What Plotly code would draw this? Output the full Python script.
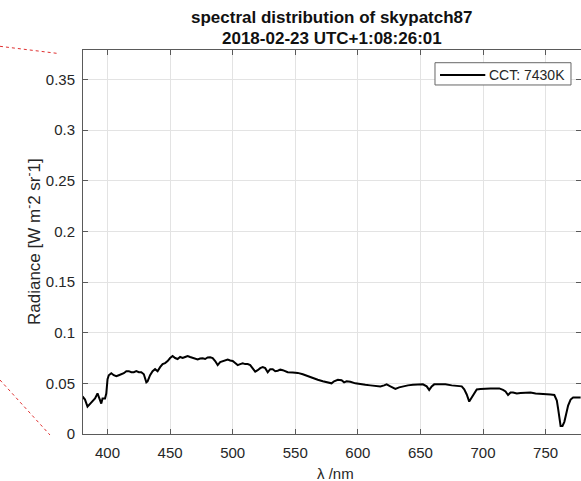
import plotly.graph_objects as go

# Sky-patch spectrum, wavelength in nm and radiance in W m^-2 sr^-1
wavelength = [
    380, 382, 384, 386, 388, 390, 392, 393, 395, 396, 398, 399, 400, 401, 403, 405,
    407, 409, 411, 413, 415, 417, 419, 421, 423, 425, 427, 429, 431, 432, 434, 436,
    438, 440, 442, 444, 446, 448, 450, 452, 454, 456, 458, 460, 462, 464, 466, 468,
    470, 472, 474, 476, 478, 480, 482, 484, 486, 488, 490, 492, 494, 496, 498, 500,
    502, 504, 506, 508, 510, 512, 514, 516, 518, 520, 522, 524, 526, 528, 530, 532,
    534, 536, 538, 540, 542, 544, 548, 552, 556, 560, 564, 568, 572, 576, 579, 581,
    584, 587, 589, 591, 594, 598, 602, 606, 610, 614, 618, 621, 623, 626, 630, 633,
    636, 640, 644, 648, 652, 655, 657, 659, 661, 665, 670, 675, 680, 683, 685, 687,
    689, 691, 693, 695, 698, 702, 706, 710, 713, 716, 718, 720, 722, 724, 727, 730,
    734, 738, 742, 746, 750, 754, 757, 759, 760, 761, 762, 763.5, 765, 766.5, 768, 770,
    772, 775, 778,
]
radiance = [
    0.037, 0.034, 0.027, 0.030, 0.033, 0.035, 0.040, 0.037, 0.030, 0.035, 0.035, 0.040, 0.054, 0.058, 0.060, 0.058,
    0.057, 0.058, 0.059, 0.060, 0.062, 0.062, 0.061, 0.061, 0.062, 0.061, 0.061, 0.059, 0.051, 0.052, 0.058, 0.062,
    0.064, 0.062, 0.066, 0.069, 0.070, 0.072, 0.075, 0.077, 0.075, 0.074, 0.076, 0.075, 0.076, 0.077, 0.076, 0.075,
    0.074, 0.0735, 0.0745, 0.0748, 0.074, 0.0755, 0.0758, 0.075, 0.072, 0.068, 0.071, 0.072, 0.073, 0.0735, 0.0725, 0.072,
    0.070, 0.068, 0.069, 0.0698, 0.069, 0.069, 0.068, 0.065, 0.0615, 0.063, 0.065, 0.066, 0.065, 0.061, 0.064, 0.064,
    0.062, 0.0625, 0.0635, 0.063, 0.062, 0.061, 0.0608, 0.0603, 0.059, 0.057, 0.0555, 0.0535, 0.052, 0.0505, 0.050, 0.052,
    0.0535, 0.053, 0.051, 0.052, 0.0515, 0.050, 0.049, 0.0485, 0.048, 0.0475, 0.047, 0.048, 0.049, 0.047, 0.0445, 0.046,
    0.047, 0.048, 0.0485, 0.0485, 0.049, 0.047, 0.0435, 0.047, 0.049, 0.049, 0.049, 0.048, 0.0475, 0.047, 0.044, 0.039,
    0.032, 0.036, 0.041, 0.044, 0.0445, 0.045, 0.045, 0.045, 0.045, 0.0435, 0.042, 0.0385, 0.041, 0.041, 0.040, 0.0405,
    0.041, 0.041, 0.040, 0.0398, 0.0395, 0.039, 0.0385, 0.033, 0.025, 0.014, 0.008, 0.008, 0.012, 0.020, 0.028, 0.034,
    0.036, 0.036, 0.036,
]
series_name = "CCT: 7430K"

x_ticks = [400, 450, 500, 550, 600, 650, 700, 750]
y_ticks = [0, 0.05, 0.1, 0.15, 0.2, 0.25, 0.3, 0.35]
y_tick_text = ["0", "0.05", "0.1", "0.15", "0.2", "0.25", "0.3", "0.35"]

FONT = "Liberation Sans, Arial, Helvetica, sans-serif"
TXT = "#262626"
AX = "#5a5a5a"
GRID = "#e3e3e3"

fig = go.Figure()
fig.add_trace(go.Scatter(
    x=wavelength, y=radiance, mode="lines", name=series_name,
    line=dict(color="black", width=2), showlegend=False,
))

axis_common = dict(
    showline=True, linecolor=AX, linewidth=1, mirror="ticks",
    ticks="inside", ticklen=5, tickcolor=AX, tickwidth=1,
    showgrid=True, gridcolor=GRID, gridwidth=1, zeroline=False,
    tickfont=dict(family=FONT, size=15, color=TXT),
)

fig.update_xaxes(range=[380.4, 778.3], tickvals=x_ticks, ticklabelstandoff=5, **axis_common)
fig.update_yaxes(range=[0, 0.379], tickvals=y_ticks, ticktext=y_tick_text, ticklabelstandoff=4, **axis_common)

# two-line bold title
for text, y in [("<b>spectral distribution of skypatch87</b>", 1.0852),
                ("<b>2018-02-23 UTC+1:08:26:01</b>", 1.0305)]:
    fig.add_annotation(text=text, xref="paper", yref="paper", x=0.501, y=y,
                       xanchor="center", yanchor="middle", showarrow=False,
                       font=dict(family=FONT, size=17, color="#111111"))

fig.add_annotation(text="λ /nm", xref="paper", yref="paper", x=0.508, y=-0.1016,
                   xanchor="center", yanchor="middle", showarrow=False,
                   font=dict(family=FONT, size=15, color=TXT))
fig.add_annotation(text="Radiance [W m<sup>-</sup>2 sr<sup>-</sup>1]", xref="paper", yref="paper",
                   x=-0.1004, y=0.5, xanchor="center", yanchor="middle", textangle=-90,
                   showarrow=False, font=dict(family=FONT, size=17, color=TXT))

# legend box with line sample
fig.add_shape(type="rect", xref="paper", yref="paper", x0=0.7068, x1=0.9799, y0=0.9089, y1=0.9669,
              line=dict(color="#666666", width=1), fillcolor="white", layer="above")
fig.add_shape(type="line", xref="paper", yref="paper", x0=0.7169, x1=0.8078, y0=0.9349, y1=0.9349,
              line=dict(color="black", width=2), layer="above")
fig.add_annotation(text=series_name, xref="paper", yref="paper", x=0.8112, y=0.9349,
                   xanchor="left", yanchor="middle", showarrow=False,
                   font=dict(family=FONT, size=14, color=TXT))

# dotted red guide lines on the left margin
for x0, y0, x1, y1 in [(-0.1667, 1.0096, -0.0528, 0.9914), (-0.1667, 0.1406, -0.0663, -0.0026)]:
    fig.add_shape(type="line", xref="paper", yref="paper", x0=x0, y0=y0, x1=x1, y1=y1,
                  line=dict(color="#e03030", width=1, dash="dot"))

fig.update_layout(
    width=581, height=481,
    margin=dict(l=83, r=0, t=50, b=47),
    paper_bgcolor="white", plot_bgcolor="white",
    showlegend=False,
)

fig.write_html("out.html")
